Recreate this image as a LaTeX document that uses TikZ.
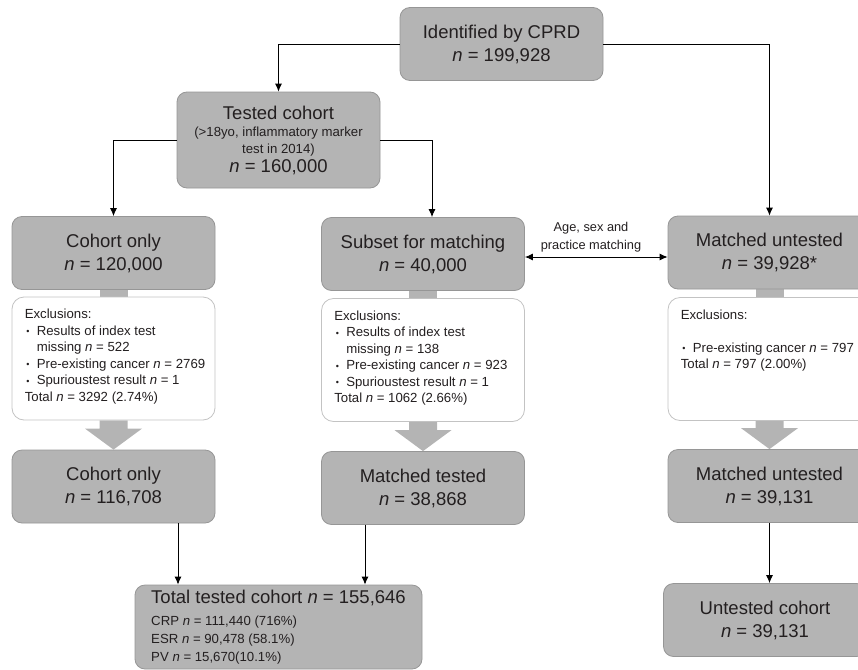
\documentclass[tikz,border=0pt]{standalone}
\usepackage{fontspec}
\setmainfont{Liberation Sans}
\usetikzlibrary{backgrounds,calc,arrows.meta}
\definecolor{boxgrey}{RGB}{180,180,180}
\definecolor{boxedge}{RGB}{150,150,150}
\definecolor{noteedge}{RGB}{195,195,195}
\definecolor{inkgrey}{RGB}{35,31,32}
\newcommand{\boxfont}{\fontsize{18.5}{23}\selectfont}
\newcommand{\notefont}{\fontsize{13.2}{16.5}\selectfont}
\newcommand{\nvar}{\textit{n}}
\newcommand{\bul}{\makebox[12pt][l]{\hspace{1.5pt}\raisebox{0.5pt}{\fontsize{9}{9}\selectfont\textbullet}}}
\newcommand{\cont}{\hspace*{12pt}}

\begin{document}
\begin{tikzpicture}[x=1pt,y=-1pt,text=inkgrey]
    % `stage' is used for the grey boxes with the counts.
    % `exclusion' is used for the white boxes listing exclusions.
    % `note' is the text inside an exclusion box.
    % `flow' is used for the thin black arrows.
    \tikzstyle{stage} = [draw=boxedge,line width=0.8pt,fill=boxgrey,rounded corners=10pt,minimum width=203pt,minimum height=73pt,align=center,font=\boxfont,inner sep=3pt]
    \tikzstyle{exclusion} = [draw=noteedge,line width=0.8pt,fill=white,rounded corners=12pt,minimum width=203pt,minimum height=123pt]
    \tikzstyle{note} = [anchor=north west,align=left,font=\notefont,inner sep=0pt]
    \tikzstyle{flow} = [draw=black,line width=0.9pt,-{Latex[length=8pt,width=7pt]}]
    \useasboundingbox (0,0) rectangle (858,669);
    %
    \node[stage] (cprd) at (501.5,44) {Identified by CPRD\\\nvar{} = 199,928};
    \node[stage,minimum height=96pt] (tested) at (278.5,140) {Tested cohort\\[-6pt]\notefont (>18yo, inflammatory marker\\[-6pt]\notefont test in 2014)\\[-4pt]\nvar{} = 160,000};
    %
    \node[stage] (cohortA) at (113.5,253) {Cohort only\\\nvar{} = 120,000};
    \node[stage] (subset) at (423,254) {Subset for matching\\\nvar{} = 40,000};
    \node[stage] (untestA) at (769.5,252.5) {Matched untested\\\nvar{} = 39,928*};
    %
    \node[exclusion] (exclA) at (113.5,358.5) {};
    \node[exclusion] (exclB) at (423,360) {};
    \node[exclusion] (exclC) at (769.5,359) {};
    \node[note] (noteA) at ($(exclA.north west)+(13,12.5)$) {Exclusions:\\\bul Results of index test\\\cont missing \nvar{} = 522\\\bul Pre-existing cancer \nvar{} = 2769\\\bul Spurioustest result \nvar{} = 1\\Total \nvar{} = 3292 (2.74\%)};
    \node[note] (noteB) at ($(exclB.north west)+(13,12.5)$) {Exclusions:\\\bul Results of index test\\\cont missing \nvar{} = 138\\\bul Pre-existing cancer \nvar{} = 923\\\bul Spurioustest result \nvar{} = 1\\Total \nvar{} = 1062 (2.66\%)};
    \node[note] (noteC) at ($(exclC.north west)+(13,12.5)$) {Exclusions:\\[16.5pt]\bul Pre-existing cancer \nvar{} = 797\\Total \nvar{} = 797 (2.00\%)};
    %
    \node[stage] (cohortB) at (113.5,486.5) {Cohort only\\\nvar{} = 116,708};
    \node[stage] (matched) at (423,488) {Matched tested\\\nvar{} = 38,868};
    \node[stage] (untestB) at (769.5,486) {Matched untested\\\nvar{} = 39,131};
    \node[stage] (untestC) at (765,620) {Untested cohort\\\nvar{} = 39,131};
    \node[stage,minimum width=287pt,minimum height=84pt,align=left] (total) at (278.5,627) {Total tested cohort \nvar{} = 155,646\\[-1pt]\notefont CRP \nvar{} = 111,440 (716\%)\\[-5pt]\notefont ESR \nvar{} = 90,478 (58.1\%)\\[-5pt]\notefont PV \nvar{} = 15,670(10.1\%)};
    %
    \node[font=\fontsize{12.8}{18}\selectfont,align=center,inner sep=0pt] (match) at (591,237) {Age, sex and\\practice matching};
    %
    \draw[flow] (cprd.west) -| (tested.north);
    \draw[flow] (cprd.east) -| (untestA.north);
    \draw[flow] (tested.west) -| (cohortA.north);
    \draw[flow] (tested.east) -| ([xshift=9pt]subset.north);
    \draw[flow,{Latex[length=8pt,width=7pt]}-{Latex[length=8pt,width=7pt]}] ([yshift=-3pt]subset.east) -- ([yshift=-3pt]subset.east -| untestA.west);
    \coordinate (inA) at ([xshift=64.5pt]cohortB.south);
    \coordinate (inB) at ([xshift=-58pt]matched.south);
    \draw[flow] (inA) -- (inA |- total.north);
    \draw[flow] (inB) -- (inB |- total.north);
    \draw[flow] (untestB.south) -- (untestB.south |- untestC.north);
    %
    \begin{pgfonlayer}{background}
        % Stubs joining a box to its exclusions.
        \foreach \a/\b in {cohortA/exclA, subset/exclB, untestA/exclC}
            \fill[boxgrey] ($(\a.south)+(-14,0)$) rectangle ($(\b.north)+(14,0)$);
        % Broad arrows below the exclusions.
        \foreach \a/\b in {exclA/cohortB, exclB/matched, exclC/untestB}
            \fill[boxgrey] ($(\a.south)+(-14,0)$) -- ($(\a.south)+(14,0)$) -- ($(\b.north)+(14,-21)$) -- ($(\b.north)+(28.5,-21)$) -- (\b.north) -- ($(\b.north)+(-28.5,-21)$) -- ($(\b.north)+(-14,-21)$) -- cycle;
    \end{pgfonlayer}
\end{tikzpicture}
\end{document}
